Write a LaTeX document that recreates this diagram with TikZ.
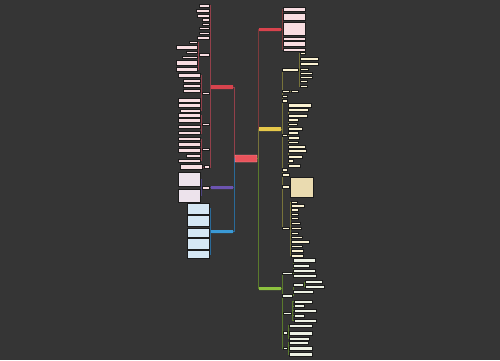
\documentclass[tikz,border=0pt]{standalone}
\usetikzlibrary{calc}
\pgfdeclarelayer{bg}
\pgfsetlayers{bg,main}
\definecolor{bgc}{HTML}{353535}
\definecolor{edgec}{HTML}{1C1C1C}
\definecolor{pinkf}{HTML}{F8DDE1}
\definecolor{creamf}{HTML}{FAF1D2}
\definecolor{creamt}{HTML}{EADBB0}
\definecolor{greenf}{HTML}{EDF1E4}
\definecolor{bluef}{HTML}{D5E7F4}
\definecolor{purpf}{HTML}{EDE3EC}
\definecolor{rootf}{HTML}{E9535B}
\definecolor{rootd}{HTML}{FFA8AE}
\definecolor{redn}{HTML}{D8434D}
\definecolor{purpn}{HTML}{6C54B0}
\definecolor{bluen}{HTML}{3A9AD6}
\definecolor{yelln}{HTML}{E6C84A}
\definecolor{greenn}{HTML}{8DC23F}
\definecolor{lred}{HTML}{93404A}
\definecolor{lpurp}{HTML}{4E4482}
\definecolor{lblue}{HTML}{2A6A98}
\definecolor{lrred}{HTML}{7E3A3C}
\definecolor{lyell}{HTML}{77733A}
\definecolor{lgreen}{HTML}{5A7A2C}
\newcommand\bx[6]{\node[#6,minimum width={(#4-#2)*1pt},minimum height={(#5-#3)*1pt}] (#1) at ({(#2+#4)/2},{(#3+#5)/2}) {};}
\newcommand\lk[3]{\begin{pgfonlayer}{bg}\foreach \cc in {#2}{\draw[#3] (#1.west) -- ++(-1,0) |- (\cc.east);}\end{pgfonlayer}}
\newcommand\rk[3]{\begin{pgfonlayer}{bg}\foreach \cc in {#2}{\draw[#3] (#1.east) -- ++(1,0) |- (\cc.west);}\end{pgfonlayer}}
\tikzset{
  leaf/.style={draw=edgec,line width=0.35pt,inner sep=0pt,outer sep=0pt,rectangle},
  pk/.style={leaf,fill=pinkf},
  cr/.style={leaf,fill=creamf},
  crt/.style={leaf,fill=creamt},
  gr/.style={leaf,fill=greenf},
  bl/.style={leaf,fill=bluef},
  pp/.style={leaf,fill=purpf},
  topn/.style={inner sep=0pt,outer sep=0pt,rectangle,rounded corners=0.4pt},
  conn/.style={line width=0.45pt}
}
\begin{document}
\begin{tikzpicture}[x=1pt,y=-1pt]
\useasboundingbox (0,0) rectangle (500,360);
\begin{pgfonlayer}{bg}\fill[bgc] (0,0) rectangle (500,360);\end{pgfonlayer}
% root
\bx{root}{235}{155}{257}{162}{topn,fill=rootf,draw=rootd,line width=0.4pt}
% main branches
\bx{R1}{211}{85}{233}{89}{topn,fill=redn}
\bx{P}{211}{186}{233}{189}{topn,fill=purpn}
\bx{B}{211}{230}{233}{233}{topn,fill=bluen}
\bx{RR}{259}{28}{281}{31}{topn,fill=redn}
\bx{Y}{259}{127}{281}{131}{topn,fill=yelln}
\bx{G}{259}{287}{281}{290}{topn,fill=greenn}
% ---- left red
\bx{r1}{199}{4}{209}{7}{pk}
\bx{r2}{196}{9}{209}{12}{pk}
\bx{r3}{197}{14}{209}{17}{pk}
\bx{r4}{202}{18.5}{209}{21}{pk}
\bx{r5}{202}{23}{209}{25.5}{pk}
\bx{r6}{199}{27}{209}{29.5}{pk}
\bx{r7}{199}{32}{209}{34.5}{pk}
\bx{r8}{197}{36}{209}{39}{pk}
\bx{ri1}{199}{53}{209}{56}{pk}
\bx{a1}{189}{41}{197}{43.5}{pk}
\bx{a2}{176}{45}{197}{49}{pk}
\bx{a3}{186}{51}{197}{53.5}{pk}
\bx{a4}{182}{56}{197}{58.5}{pk}
\bx{a5}{176}{60}{197}{65}{pk}
\bx{a6}{176}{67}{197}{71}{pk}
\bx{ri2}{202}{92}{209}{94.5}{pk}
\bx{b1}{178}{73}{200}{77}{pk}
\bx{b2}{183}{79}{200}{82}{pk}
\bx{b3}{183}{84}{200}{87}{pk}
\bx{b4}{183}{89}{200}{92}{pk}
\bx{b5}{178}{98}{200}{102}{pk}
\bx{b6}{178}{103.5}{200}{107.5}{pk}
\bx{b7}{180}{109}{200}{112}{pk}
\bx{ri3}{202}{123}{209}{125.5}{pk}
\bx{c1}{178}{113.5}{200}{117}{pk}
\bx{c2}{178}{118.5}{200}{122}{pk}
\bx{c3}{178}{125}{200}{128.5}{pk}
\bx{c4}{178}{131}{200}{134.5}{pk}
\bx{ri4}{202}{148}{209}{150.5}{pk}
\bx{d1}{178}{137}{200}{140.5}{pk}
\bx{d2}{178}{142}{200}{146}{pk}
\bx{d3}{178}{148}{200}{152}{pk}
\bx{d4}{186}{154}{200}{157}{pk}
\bx{d5}{178}{159}{200}{162}{pk}
\bx{ri5}{204}{165.5}{209}{168}{pk}
\bx{e1}{180}{164}{202}{169.5}{pk}
% ---- purple
\bx{pi}{202}{186}{209}{189}{pk}
\bx{p1}{178}{172}{200}{186}{pp}
\bx{p2}{178}{189}{200}{202}{pp}
% ---- blue
\bx{bl1}{187}{203}{209}{214}{bl}
\bx{bl2}{187}{215}{209}{226}{bl}
\bx{bl3}{187}{228}{209}{237}{bl}
\bx{bl4}{187}{238.5}{209}{249}{bl}
\bx{bl5}{187}{250.5}{209}{258}{bl}
% ---- right red
\bx{s1}{283}{7}{305}{11}{pk}
\bx{s2}{283}{13}{305}{20}{pk}
\bx{s3}{283}{22.5}{305}{35.5}{pk}
\bx{s4}{283}{37}{305}{40}{pk}
\bx{s5}{283}{41.5}{305}{46}{pk}
\bx{s6}{283}{48}{305}{51}{pk}
% ---- yellow
\bx{yi1}{282}{68}{298}{71}{cr}
\bx{t1}{300}{52}{305}{54.5}{cr}
\bx{t2}{300}{57}{318}{60}{cr}
\bx{t3}{300}{62.5}{318}{65}{cr}
\bx{t4}{300}{68}{308}{70.5}{cr}
\bx{t5}{300}{72}{312}{74.5}{cr}
\bx{t6}{300}{76}{312}{78.5}{cr}
\bx{t7}{300}{80}{307}{82.5}{cr}
\bx{t8}{300}{85}{307}{87.5}{cr}
\bx{yi2}{282}{90}{289}{92.5}{cr}
\bx{t9}{291}{90}{298}{92.5}{cr}
\bx{y3}{282}{95}{287}{97.5}{cr}
\bx{y4}{282}{99.5}{287}{102}{cr}
\bx{yi5}{282}{134}{287}{136.5}{cr}
\bx{u1}{288}{103}{311}{107}{cr}
\bx{u1b}{288}{108.5}{308}{111.5}{cr}
\bx{u2}{288}{114}{307}{117}{cr}
\bx{u3}{288}{118.5}{298}{121}{cr}
\bx{u4}{288}{123}{297}{125.5}{cr}
\bx{u5}{288}{127}{302}{130}{cr}
\bx{u6}{288}{131.5}{298}{134}{cr}
\bx{u7}{288}{136.5}{299}{139}{cr}
\bx{u8}{288}{141}{298}{143.5}{cr}
\bx{u9}{288}{145}{305}{148}{cr}
\bx{u10}{288}{149.5}{306}{152}{cr}
\bx{u12}{288}{155}{302}{158}{cr}
\bx{u13}{288}{159.5}{293}{162}{cr}
\bx{u14}{288}{164}{300}{167}{cr}
\bx{y6}{282}{168.5}{287}{171}{cr}
\bx{y7}{282}{173.5}{289}{176}{cr}
\bx{yi8}{282}{185.5}{289}{188}{cr}
\bx{v1}{290}{177}{313}{197}{crt}
\bx{yi9}{282}{227}{289}{229.5}{cr}
\bx{w1}{291}{201}{297}{203.5}{cr}
\bx{w2}{291}{204.5}{304}{207}{cr}
\bx{w3}{291}{208.5}{298}{211}{cr}
\bx{w4}{291}{213}{298}{215.5}{cr}
\bx{w5}{291}{217}{298}{219.5}{cr}
\bx{w6}{291}{222}{300}{224.5}{cr}
\bx{w7}{291}{227}{301}{229.5}{cr}
\bx{w8}{291}{232}{298}{234.5}{cr}
\bx{w9}{291}{236}{302}{238.5}{cr}
\bx{w10}{291}{240}{309}{243}{cr}
\bx{w11}{291}{245}{302}{247.5}{cr}
\bx{w12}{291}{249.5}{303}{252}{cr}
\bx{w13}{291}{254}{303}{257}{cr}
% ---- green
\bx{gi1}{282}{272}{292}{274.5}{gr}
\bx{g2}{293}{258}{315}{262}{gr}
\bx{g3}{293}{264}{309}{267}{gr}
\bx{g4}{293}{269}{315}{272}{gr}
\bx{g5}{293}{274}{316}{277}{gr}
\bx{gi2}{282}{294}{292}{297}{gr}
\bx{gj}{293}{283}{303}{286}{gr}
\bx{h1}{305}{280.5}{322}{283}{gr}
\bx{h2}{305}{285}{324}{288}{gr}
\bx{g6}{293}{290.5}{313}{293.5}{gr}
\bx{gi3}{283}{312}{291}{314.5}{gr}
\bx{g8}{294}{300}{312}{303}{gr}
\bx{g9}{294}{304.5}{304}{307}{gr}
\bx{g10}{294}{309}{316}{312}{gr}
\bx{g11}{294}{314}{304}{317}{gr}
\bx{g12}{294}{319}{316}{322}{gr}
\bx{gi4}{283}{331.5}{287}{334}{gr}
\bx{k1}{289}{324}{312}{327}{gr}
\bx{k2}{289}{331.5}{312}{335}{gr}
\bx{k3}{289}{337}{309}{340}{gr}
\bx{gi5}{283}{347}{287}{349.5}{gr}
\bx{k4}{289}{341}{308}{344}{gr}
\bx{k5}{289}{346.5}{312}{350}{gr}
\bx{k6}{289}{352}{312}{356}{gr}
% ---- connectors
\lk{root}{R1}{conn,lred}
\lk{root}{P}{conn,lpurp}
\lk{root}{B}{conn,lblue}
\rk{root}{RR}{conn,lrred}
\rk{root}{Y}{conn,lyell}
\rk{root}{G}{conn,lgreen}
\lk{R1}{r1,r2,r3,r4,r5,r6,r7,r8,ri1,ri2,ri3,ri4,ri5}{conn,lred}
\lk{ri1}{a1,a2,a3,a4,a5,a6}{conn,lred}
\lk{ri2}{b1,b2,b3,b4,b5,b6,b7}{conn,lred}
\lk{ri3}{c1,c2,c3,c4}{conn,lred}
\lk{ri4}{d1,d2,d3,d4,d5}{conn,lred}
\lk{ri5}{e1}{conn,lred}
\lk{P}{pi}{conn,lpurp}
\lk{pi}{p1,p2}{conn,lpurp}
\lk{B}{bl1,bl2,bl3,bl4,bl5}{conn,lblue}
\rk{RR}{s1,s2,s3,s4,s5,s6}{conn,lrred}
\rk{Y}{yi1,yi2,y3,y4,yi5,y6,y7,yi8,yi9}{conn,lyell}
\rk{yi1}{t1,t2,t3,t4,t5,t6,t7,t8}{conn,lyell}
\rk{yi2}{t9}{conn,lyell}
\rk{yi5}{u1,u1b,u2,u3,u4,u5,u6,u7,u8,u9,u10,u12,u13,u14}{conn,lyell}
\rk{yi8}{v1}{conn,lyell}
\rk{yi9}{w1,w2,w3,w4,w5,w6,w7,w8,w9,w10,w11,w12,w13}{conn,lyell}
\rk{G}{gi1,gi2,gi3,gi4,gi5}{conn,lgreen}
\rk{gi1}{g2,g3,g4,g5}{conn,lgreen}
\rk{gi2}{gj,g6}{conn,lgreen}
\rk{gj}{h1,h2}{conn,lgreen}
\rk{gi3}{g8,g9,g10,g11,g12}{conn,lgreen}
\rk{gi4}{k1,k2,k3}{conn,lgreen}
\rk{gi5}{k4,k5,k6}{conn,lgreen}
\end{tikzpicture}
\end{document}
